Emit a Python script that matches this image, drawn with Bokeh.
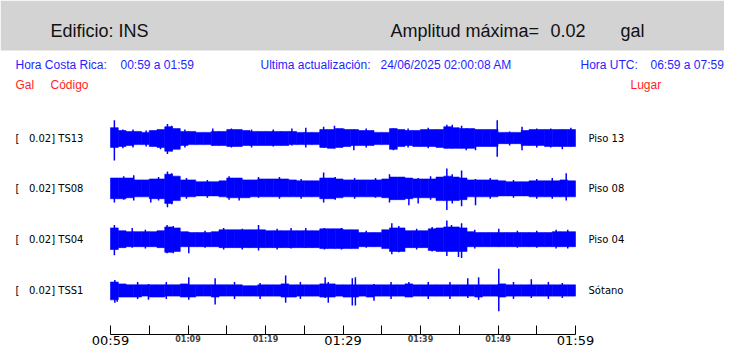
from bokeh.plotting import figure
from bokeh.models import Range1d, LinearAxis, FixedTicker, BoxAnnotation
from bokeh.core.properties import value
from bokeh.embed import file_html
from bokeh.resources import INLINE

# ---------------- data ----------------
building = "INS"
max_amp = "0.02"
units = "gal"
hora_cr = "00:59 a 01:59"
hora_utc = "06:59 a 07:59"
updated = "24/06/2025 02:00:08 AM"

codes = ["TS13", "TS08", "TS04", "TSS1"]
places = ["Piso 13", "Piso 08", "Piso 04", "Sótano"]
trace_amps = ["0.02", "0.02", "0.02", "0.02"]

minutes = list(range(60))  # one-minute bins from 00:59
tick_minutes = [0, 5, 10, 15, 20, 25, 30, 35, 40, 45, 50, 55, 60]
big_tick_minutes = [0, 30, 60]
big_tick_labels = ["00:59", "01:29", "01:59"]
small_tick_minutes = [10, 20, 40, 50]
small_tick_labels = ["01:09", "01:19", "01:39", "01:49"]

# envelope per minute (mgal): upward and downward extent of the trace
ts13_up = [11, 8, 7, 7, 6, 8, 9, 12, 10, 7, 7, 6, 6, 7, 7, 9, 9, 8, 7, 7,
           7, 7, 7, 7, 6, 6, 6, 9, 9, 10, 9, 9, 8, 8, 6, 6, 10, 9, 8, 8,
           9, 9, 9, 12, 11, 10, 10, 9, 9, 9, 6, 6, 6, 8, 9, 9, 9, 9, 9, 9]
ts13_dn = [10, 9, 8, 7, 7, 9, 10, 14, 12, 8, 7, 7, 7, 8, 8, 9, 9, 8, 8, 8,
           8, 8, 8, 7, 7, 7, 7, 10, 11, 10, 9, 8, 8, 8, 7, 7, 12, 9, 8, 9,
           9, 9, 10, 11, 11, 11, 11, 9, 9, 9, 6, 6, 6, 8, 8, 8, 9, 9, 9, 9]
ts08_up = [11, 11, 11, 9, 9, 10, 10, 15, 13, 9, 9, 7, 7, 7, 8, 11, 11, 9, 9, 10,
           10, 10, 10, 9, 8, 8, 8, 11, 11, 10, 9, 9, 9, 9, 9, 10, 12, 12, 11, 10,
           10, 10, 12, 13, 12, 11, 9, 9, 9, 9, 8, 7, 7, 7, 8, 8, 8, 8, 9, 8]
ts08_dn = [11, 11, 10, 9, 9, 11, 11, 16, 13, 9, 9, 8, 8, 8, 9, 10, 10, 10, 9, 9,
           9, 9, 9, 9, 9, 9, 9, 11, 11, 10, 9, 9, 9, 9, 9, 10, 12, 12, 11, 10,
           10, 10, 13, 13, 13, 12, 9, 9, 9, 9, 8, 8, 8, 8, 9, 9, 9, 9, 9, 9]
ts04_up = [12, 9, 8, 8, 8, 8, 9, 13, 12, 8, 7, 7, 7, 8, 10, 10, 10, 10, 10, 10,
           9, 9, 9, 9, 9, 9, 9, 11, 11, 11, 10, 10, 7, 7, 7, 10, 12, 12, 9, 9,
           9, 11, 12, 13, 13, 12, 8, 7, 7, 7, 7, 7, 7, 7, 7, 7, 7, 8, 8, 8]
ts04_dn = [11, 9, 8, 8, 8, 8, 9, 14, 13, 8, 8, 8, 8, 8, 9, 9, 9, 9, 9, 9,
           9, 9, 9, 9, 9, 9, 9, 10, 10, 10, 10, 10, 8, 8, 8, 10, 13, 13, 9, 9,
           9, 12, 13, 13, 13, 13, 8, 8, 8, 8, 8, 8, 8, 8, 8, 8, 8, 8, 8, 8]
tss1_up = [9, 7, 6, 6, 6, 6, 6, 6, 6, 7, 6, 6, 6, 6, 6, 6, 6, 5, 5, 6,
           6, 6, 7, 6, 6, 6, 6, 7, 7, 6, 6, 6, 6, 6, 6, 6, 6, 6, 7, 6,
           6, 6, 6, 6, 6, 6, 6, 6, 6, 6, 7, 6, 6, 6, 6, 6, 6, 6, 6, 6]
tss1_dn = [10, 7, 7, 7, 6, 7, 7, 6, 6, 7, 7, 6, 6, 7, 6, 6, 6, 6, 6, 6,
           6, 6, 7, 7, 6, 6, 6, 7, 7, 6, 7, 7, 6, 7, 6, 6, 6, 6, 7, 6,
           6, 6, 6, 6, 6, 6, 6, 7, 6, 6, 7, 6, 6, 6, 6, 6, 6, 6, 6, 6]

# isolated spikes: minute, upward extent, downward extent (mgal)
ts13_spk_t = [0.5, 1.6, 2.9, 4.6, 6.45, 7.35, 7.9, 9.6, 13.2, 15.6, 18.2, 21.0, 23.4, 25.2, 27.5,
              28.9, 30.1, 31.4, 33.0, 36.5, 38.4, 41.0, 43.4, 44.1, 45.3, 45.9, 47.1, 49.9,
              51.5, 53.1, 55.0, 56.8, 58.3, 59.4]
ts13_spk_u = [19, 9, 9, 8, 8, 15, 13, 9, 10, 10, 9, 9, 10, 11, 12,
              13, 10, 9, 10, 10, 10, 11, 14, 14, 13, 10, 9, 19,
              7, 12, 10, 10, 9, 11]
ts13_spk_d = [24, 11, 10, 9, 12, 17, 14, 10, 8, 10, 10, 9, 8, 10, 10,
              11, 9, 13, 10, 13, 10, 11, 11, 11, 11, 13, 13, 20,
              8, 13, 10, 10, 12, 9]
ts08_spk_t = [0.5, 1.7, 3.0, 5.2, 6.2, 7.35, 7.9, 9.8, 12.5, 15.3, 16.6, 19.1, 21.8, 24.6, 27.5,
              29.0, 31.5, 34.2, 36.0, 38.5, 39.7, 41.3, 43.4, 44.1, 45.3, 47.1, 49.0, 52.0,
              55.0, 57.0, 58.8]
ts08_spk_u = [11, 13, 14, 10, 12, 18, 16, 11, 9, 13, 10, 12, 12, 10, 17,
              12, 11, 11, 15, 11, 11, 13, 21, 15, 19, 10, 11, 9,
              10, 11, 16]
ts08_spk_d = [15, 12, 13, 15, 13, 20, 17, 11, 10, 12, 13, 10, 11, 11, 15,
              12, 11, 10, 15, 18, 16, 12, 23, 16, 19, 18, 11, 10,
              11, 11, 13]
ts04_spk_t = [0.5, 2.8, 4.5, 7.3, 8.1, 10.1, 12.2, 14.6, 17.0, 19.1, 21.5, 23.3, 25.2, 27.6,
              29.8, 33.0, 36.3, 37.2, 39.5, 41.5, 43.4, 44.0, 44.9, 45.3, 47.0, 50.1,
              52.5, 55.0, 57.5, 59.0]
ts04_spk_u = [15, 12, 10, 15, 14, 8, 9, 12, 11, 15, 11, 12, 12, 12,
              12, 9, 17, 14, 11, 13, 20, 15, 13, 17, 10, 11,
              9, 9, 10, 10]
ts04_spk_d = [17, 9, 10, 15, 15, 15, 9, 11, 11, 12, 11, 10, 9, 11,
              11, 9, 16, 14, 11, 13, 18, 13, 19, 20, 10, 8,
              9, 9, 10, 10]
tss1_spk_t = [0.56, 0.86, 3.5, 4.9, 7.2, 10.1, 13.5, 16.0, 19.3, 22.6, 24.5, 27.7, 28.1, 31.2,
              31.6, 34.0, 36.2, 38.5, 41.0, 43.8, 46.1, 47.5, 50.1, 52.0, 54.3, 56.5, 58.3]
tss1_spk_u = [11, 8, 9, 7, 9, 14, 13, 9, 8, 16, 9, 14, 9, 13,
              14, 7, 9, 9, 9, 9, 13, 14, 23, 9, 12, 9, 8]
tss1_spk_d = [13, 12, 9, 10, 9, 10, 15, 9, 9, 13, 9, 8, 13, 16,
              16, 11, 9, 7, 9, 9, 8, 10, 22, 9, 8, 9, 8]

# ---------------- layout ----------------
W, H = 724, 347
px_per_min = 7.75
x0_px = 110  # canvas px of minute 0


def xm(px):
    """canvas x pixel -> minutes on the time scale"""
    return (px - x0_px) / px_per_min


def fy(y):
    """reference y pixel -> canvas y (compress below the header rows)"""
    return y if y <= 90 else 90 + (y - 90) * 0.941


K = 0.94  # px per mgal
centers = [fy(140.5), fy(194), fy(248), fy(302.5)]
blue = "#0000ff"

p = figure(width=W, height=H, output_backend="svg", toolbar_location=None,
           x_axis_type=None, y_axis_type=None,
           x_range=Range1d(xm(0), xm(W)),
           y_range=Range1d(H, 0),
           min_border_left=0, min_border_right=0, min_border_top=0,
           min_border_bottom=0)
p.outline_line_color = None
p.background_fill_color = "white"
p.border_fill_color = "white"

banner = BoxAnnotation(left=p.x_range.start, right=p.x_range.end, top=0, bottom=50,
                       fill_color="#d3d3d3", fill_alpha=1.0, line_color=None, level="underlay")
p.add_layout(banner)

sans = value("Liberation Sans")
dv = value("DejaVu Sans")

p.text(x=[xm(50), xm(390), xm(550), xm(620)], y=[30, 30, 30, 30],
       text=["Edificio: " + building, "Amplitud máxima=", max_amp, units],
       text_font=sans, text_font_size="18px", text_color="#111111",
       text_baseline="alphabetic", text_align="left")

p.text(x=[xm(15), xm(120), xm(260), xm(380), xm(580), xm(650)], y=[64] * 6,
       text=["Hora Costa Rica:", hora_cr, "Ultima actualización:", updated, "Hora UTC:", hora_utc],
       text_font=sans, text_font_size="12px", text_color="#1f1fff",
       text_baseline="alphabetic", text_align="left")

p.text(x=[xm(15), xm(50), xm(630)], y=[84.5] * 3, text=["Gal", "Código", "Lugar"],
       text_font=sans, text_font_size="12px", text_color="#ff1f1f",
       text_baseline="alphabetic", text_align="left")

ups = [ts13_up, ts08_up, ts04_up, tss1_up]
dns = [ts13_dn, ts08_dn, ts04_dn, tss1_dn]
spk_t = [ts13_spk_t, ts08_spk_t, ts04_spk_t, tss1_spk_t]
spk_u = [ts13_spk_u, ts08_spk_u, ts04_spk_u, tss1_spk_u]
spk_d = [ts13_spk_d, ts08_spk_d, ts04_spk_d, tss1_spk_d]

for i, c in enumerate(centers):
    p.vbar(x=[m + 0.5 for m in minutes], width=1.0,
           top=[c - u * K for u in ups[i]], bottom=[c + d * K for d in dns[i]],
           fill_color=blue, line_color=blue, line_width=0.6)
    p.segment(x0=spk_t[i], x1=spk_t[i],
              y0=[c - u * K for u in spk_u[i]], y1=[c + d * K for d in spk_d[i]],
              line_color=blue, line_width=1.5)

nb = "\u00a0"
p.text(x=[xm(15)] * 4, y=centers,
       text=["[" + nb * 3 + "%s] %s" % (a, cde) for a, cde in zip(trace_amps, codes)],
       text_font=dv, text_font_size="10px", text_color="black",
       text_baseline="middle", text_align="left")
p.text(x=[xm(588)] * 4, y=centers, text=places,
       text_font=dv, text_font_size="10px", text_color="black",
       text_baseline="middle", text_align="left")

axis_y = fy(349)
ax = LinearAxis(ticker=FixedTicker(ticks=tick_minutes), bounds=(0, 60), fixed_location=axis_y)
ax.major_tick_in = 9
ax.major_tick_out = 0
ax.minor_tick_in = 0
ax.minor_tick_out = 0
ax.axis_line_color = "black"
ax.major_tick_line_color = "black"
overrides = {m: "" for m in tick_minutes}
for m, t in zip(small_tick_minutes, small_tick_labels):
    overrides[m] = t
ax.major_label_overrides = overrides
ax.major_label_text_font = "DejaVu Sans"
ax.major_label_text_font_style = "bold"
ax.major_label_text_font_size = "8px"
ax.major_label_standoff = 1
p.add_layout(ax, "below")

p.text(x=big_tick_minutes, y=[fy(356)] * 3, text=big_tick_labels,
       text_font=dv, text_font_size="13px", text_color="black",
       text_baseline="middle", text_align="center")

open("out.html", "w").write(file_html(p, INLINE))
